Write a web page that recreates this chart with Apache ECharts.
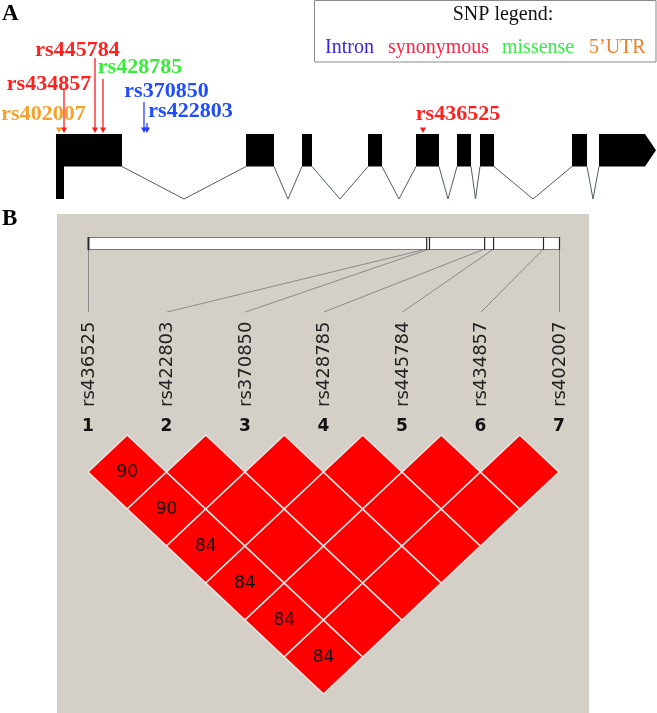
<!DOCTYPE html>
<html><head><meta charset="utf-8">
<script src="https://cdn.jsdelivr.net/npm/echarts@6/dist/echarts.min.js"></script>
<style>html,body{margin:0;padding:0;background:#fff}#c{width:657px;height:713px}</style>
</head><body><div id="c"></div>
<script>
// ---------------- DATA ----------------
// SNPs in LD-plot marker order (1..7)
const snpIds      = ['rs436525','rs422803','rs370850','rs428785','rs445784','rs434857','rs402007'];
const markerNums  = ['1','2','3','4','5','6','7'];
const snpTypes    = ['synonymous','intron','intron','missense','synonymous','synonymous','5UTR'];
// position of each SNP along the drawn gene model (gene-model units)
const snpGenePos  = [423, 147, 144, 103, 95, 64, 59];
// relative physical position of each SNP on the Haploview bar (0..1000)
const snpPhysPos  = [0, 718, 724, 841, 860, 966, 1000];
// exon structure of the gene model (gene-model units)
const exonStarts  = [56, 246, 302, 368, 416, 457, 480, 572, 599];
const exonEnds    = [122, 274, 312, 382, 439, 471, 494, 587, 656];
// pairwise D' (x100) : row r = marker r+1 vs markers r+2..7 ; 100 = not printed
const ldDprime = [
  [90, 90, 84, 84, 84, 84],
  [100, 100, 100, 100, 100],
  [100, 100, 100, 100],
  [100, 100, 100],
  [100, 100],
  [100]
];
const legendTitle  = 'SNP legend:';
const legendLabels = ['Intron', 'synonymous', 'missense', '5’UTR'];

// ---------------- STYLE / LAYOUT ----------------
const SERIF = '"Liberation Serif","Times New Roman",serif';
const SANS  = '"DejaVu Sans","Verdana",sans-serif';
const legendColors = ['#3a22f2', '#ff2244', '#33ee44', '#f0802a'];
const legendLeft   = [325, 388, 502, 589];
const typeLabelColor = {intron:'#1f4cff', synonymous:'#ff2020', missense:'#3aec3a', '5UTR':'#f6a12a'};
const snpLineColor   = ['#ff1a1a','#2a3cff','#2a3cff','#ff1a1a','#ff1a1a','#ff1a1a','#f59a1c'];
const labelDX   = [35, 43.5, 22.5, 37, -17.5, -15, -15.5];
const labelDY   = [-19.5, -22.5, -42.5, -67, -83.5, -50, -20];
const lineTopDY = [null, -11, -32, -55, -76, -46, null];
const LD_RED = '#ff0000';

const chart = echarts.init(document.getElementById('c'), null, {renderer:'canvas', width:657, height:713});

const physToMarker = p => 1 + 6 * p / 1000;

// LD cells
const ldData = [];
ldDprime.forEach((row, r) => row.forEach((v, c) => {
  const i = r + 1, j = r + 2 + c;
  ldData.push([(i + j) / 2, j - i, v]);
}));

const option = {
  animation: false,
  backgroundColor: '#ffffff',
  grid: [
    {left: 0, width: 657, top: 134, height: 65},
    {left: 88, width: 471, top: 435, height: 259}
  ],
  xAxis: [
    {gridIndex: 0, type: 'value', min: 0, max: 657, show: false},
    {gridIndex: 1, type: 'value', min: 1, max: 7, show: false}
  ],
  yAxis: [
    {gridIndex: 0, type: 'value', min: -1, max: 1, show: false},
    {gridIndex: 1, type: 'value', min: 0, max: 7, inverse: true, show: false}
  ],
  graphic: [
    {type: 'rect', z: -10, shape: {x: 57, y: 214, width: 532, height: 499}, style: {fill: '#d4d0c8'}},
    {type: 'rect', z: 1, shape: {x: 314.5, y: 0.5, width: 341.5, height: 61.5}, style: {fill: '#fff', stroke: '#8a8a8a', lineWidth: 1}},
    {type: 'text', z: 2, x: 503, y: 15, style: {text: legendTitle, font: '20px ' + SERIF, fill: '#111', align: 'center', verticalAlign: 'middle'}},
    ...legendLabels.map((t, k) => ({type: 'text', z: 2, x: legendLeft[k], y: 48,
      style: {text: t, font: '20px ' + SERIF, fill: legendColors[k], align: 'left', verticalAlign: 'middle'}})),
    {type: 'text', z: 2, x: 2, y: 14, style: {text: 'A', font: 'bold 23px ' + SERIF, fill: '#000', align: 'left', verticalAlign: 'middle'}},
    {type: 'text', z: 2, x: 2, y: 219, style: {text: 'B', font: 'bold 23px ' + SERIF, fill: '#000', align: 'left', verticalAlign: 'middle'}}
  ],
  series: [
    // exons
    {
      type: 'custom', xAxisIndex: 0, yAxisIndex: 0, z: 3,
      data: exonStarts.map((s, i) => [s, exonEnds[i], i]),
      renderItem(params, api) {
        const s = api.value(0), e = api.value(1), idx = api.value(2);
        const tl = api.coord([s, 1]), br = api.coord([e, 0]), dip = api.coord([s, -1]);
        const st = {fill: '#000'};
        if (idx === 0) {
          return {type: 'group', children: [
            {type: 'rect', shape: {x: tl[0], y: tl[1], width: br[0] - tl[0], height: br[1] - tl[1]}, style: st},
            {type: 'rect', shape: {x: tl[0], y: tl[1], width: 8, height: dip[1] - tl[1]}, style: st}
          ]};
        }
        if (idx === exonStarts.length - 1) {
          const mid = (tl[1] + br[1]) / 2;
          return {type: 'polygon', shape: {points: [[tl[0], tl[1]], [br[0] - 11, tl[1]], [br[0], mid], [br[0] - 11, br[1]], [tl[0], br[1]]]}, style: st};
        }
        return {type: 'rect', shape: {x: tl[0], y: tl[1], width: br[0] - tl[0], height: br[1] - tl[1]}, style: st};
      }
    },
    // introns
    {
      type: 'custom', xAxisIndex: 0, yAxisIndex: 0, z: 2,
      data: exonEnds.slice(0, -1).map((e, k) => [e, exonStarts[k + 1]]),
      renderItem(params, api) {
        const a = api.value(0), b = api.value(1);
        return {type: 'polyline', shape: {points: [api.coord([a, 0]), api.coord([(a + b) / 2, -1]), api.coord([b, 0])]},
          style: {stroke: '#555a66', lineWidth: 1, fill: null}};
      }
    },
    // SNP annotations on gene
    {
      type: 'custom', xAxisIndex: 0, yAxisIndex: 0, z: 4,
      data: snpGenePos.map((p, i) => [p, i]),
      renderItem(params, api) {
        const i = api.value(1);
        const tip = api.coord([api.value(0), 1]);
        const x = tip[0], y = tip[1] - 1;
        const col = snpLineColor[i];
        const ch = [
          {type: 'text', x: x + labelDX[i], y: tip[1] + labelDY[i],
            style: {text: snpIds[i], font: 'bold 22px ' + SERIF, fill: typeLabelColor[snpTypes[i]], align: 'center', verticalAlign: 'middle'}},
          {type: 'polygon', shape: {points: [[x - 3, y - 5.5], [x + 3, y - 5.5], [x, y]]}, style: {fill: col}}
        ];
        if (lineTopDY[i] !== null) {
          ch.push({type: 'line', shape: {x1: x, y1: tip[1] + lineTopDY[i], x2: x, y2: y - 4}, style: {stroke: col, lineWidth: 1.3}});
        }
        return {type: 'group', children: ch};
      }
    },
    // LD diamonds
    {
      type: 'custom', xAxisIndex: 1, yAxisIndex: 1, z: 3,
      data: ldData,
      renderItem(params, api) {
        const cx = api.value(0), cy = api.value(1), v = api.value(2);
        const pts = [api.coord([cx, cy - 1]), api.coord([cx + 0.5, cy]), api.coord([cx, cy + 1]), api.coord([cx - 0.5, cy])];
        const c = api.coord([cx, cy]);
        const ch = [{type: 'polygon', shape: {points: pts}, style: {fill: LD_RED, stroke: '#e6e6e0', lineWidth: 1.6}}];
        if (v < 100) {
          ch.push({type: 'text', x: c[0], y: c[1] + 1, style: {text: String(v), font: '17px ' + SANS, fill: '#111', align: 'center', verticalAlign: 'middle'}});
        }
        return {type: 'group', children: ch};
      }
    },
    // marker labels, numbers, connectors
    {
      type: 'custom', xAxisIndex: 1, yAxisIndex: 1, z: 3,
      data: snpIds.map((id, k) => [k + 1, physToMarker(snpPhysPos[k]), k]),
      renderItem(params, api) {
        const m = api.coord([api.value(0), 0]);
        const ph = api.coord([api.value(1), 0]);
        const k = api.value(2);
        const x = m[0], top = m[1];
        return {type: 'group', children: [
          {type: 'text', x: x, y: top - 8, style: {text: markerNums[k], font: 'bold 17px ' + SANS, fill: '#111', align: 'center', verticalAlign: 'middle'}},
          {type: 'text', x: x + 1, y: top - 28, rotation: Math.PI / 2,
            style: {text: snpIds[k], font: '18px ' + SANS, fill: '#222', align: 'left', verticalAlign: 'middle'}},
          {type: 'line', shape: {x1: ph[0] + 0.5, y1: top - 186, x2: x + 0.5, y2: top - 123}, style: {stroke: '#8a8a8a', lineWidth: 1}}
        ]};
      }
    },
    // physical position bar
    {
      type: 'custom', xAxisIndex: 1, yAxisIndex: 1, z: 4,
      data: [[physToMarker(0), physToMarker(1000)]],
      renderItem(params, api) {
        const a = api.coord([api.value(0), 0]), b = api.coord([api.value(1), 0]);
        const y0 = a[1] - 198, h = 12;
        const ch = [{type: 'rect', shape: {x: a[0] + 0.5, y: y0 + 0.5, width: b[0] - a[0], height: h}, style: {fill: '#ffffff', stroke: '#7a7a7a', lineWidth: 1}}];
        snpPhysPos.forEach((p, k) => {
          const px = api.coord([physToMarker(p), 0])[0];
          ch.push({type: 'line', shape: {x1: px + 0.5, y1: y0, x2: px + 0.5, y2: y0 + h + 1}, style: {stroke: '#2a2a2a', lineWidth: k === 0 ? 2 : 1.2}});
        });
        return {type: 'group', children: ch};
      }
    }
  ]
};
chart.setOption(option);
</script>
</body></html>
